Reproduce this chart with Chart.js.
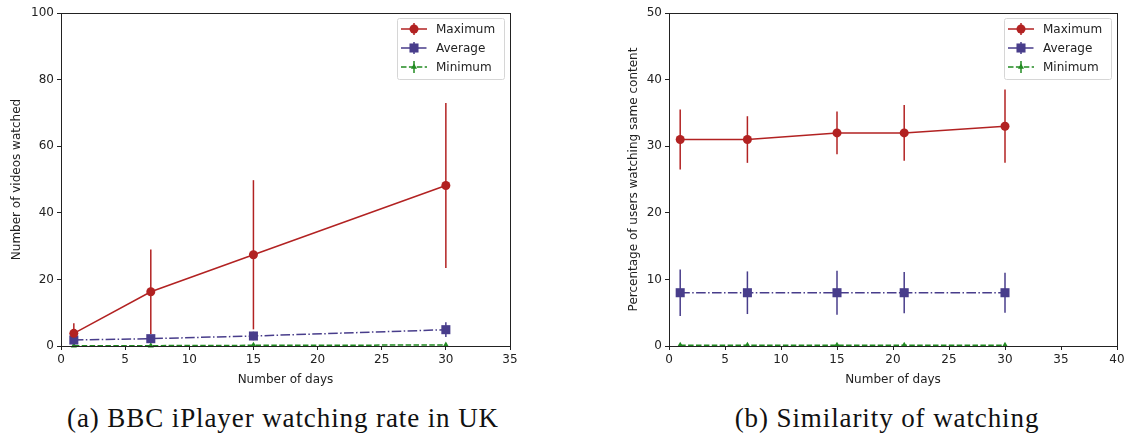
<!DOCTYPE html>
<html lang="en">
  <head>
    <meta charset="UTF-8" />
    <title>iPlayer watching</title>
    <script src="https://cdn.jsdelivr.net/npm/chart.js"></script>
    <style>
      body {
        margin: 0;
        width: 1128px;
        height: 435px;
        background: #fff;
        position: relative;
        overflow: hidden;
      }
      .panel {
        position: absolute;
        top: 0;
        height: 392px;
      }
      #left { left: 0; width: 525px; }
      #right { left: 600px; width: 528px; }
      .caption {
        position: absolute;
        top: 403px;
        font-family: "Liberation Serif", "DejaVu Serif", serif;
        font-size: 27px;
        letter-spacing: 0.9px;
        color: #111;
        text-align: center;
        white-space: nowrap;
      }
    </style>
  </head>
  <body>
    <div class="panel" id="left"><canvas id="rateChart"></canvas></div>
    <div class="panel" id="right"><canvas id="simChart"></canvas></div>
    <div class="caption" style="left: 33px; width: 500px">(a) BBC iPlayer watching rate in UK</div>
    <div class="caption" style="left: 637px; width: 500px">(b) Similarity of watching</div>

    <script>
      // (a) videos watched per user
      const daysA = [1, 7, 15, 30];
      const maxA = [3.8, 16.3, 27.4, 48.2];
      const maxErrA = [3, 12.7, 22.4, 24.8];
      const avgA = [1.8, 2.2, 3.0, 4.9];
      const avgErrA = [0.8, 0.9, 1.3, 2.2];
      const minA = [0.1, 0.1, 0.2, 0.3];
      const minErrA = [0.2, 0.2, 0.2, 0.3];

      // (b) share of users watching the same content
      const daysB = [1, 7, 15, 21, 30];
      const maxB = [31, 31, 32, 32, 33];
      const maxErrB = [4.5, 3.5, 3.2, 4.2, 5.5];
      const avgB = [8, 8, 8, 8, 8];
      const avgErrB = [3.5, 3.2, 3.3, 3.1, 3.0];
      const minB = [0.1, 0.1, 0.1, 0.1, 0.1];
      const minErrB = [0.2, 0.2, 0.2, 0.2, 0.2];

      const RED = "#b22222";
      const BLUE = "#483d8b";
      const GREEN = "#228b22";
      const FONT = "'DejaVu Sans', sans-serif";

      const series = [
        { label: "Maximum", color: RED, dash: [], style: "circle", r: 4.5 },
        { label: "Average", color: BLUE, dash: [9.6, 2.4, 1.5, 2.4], style: "rect", r: 6.4 },
        { label: "Minimum", color: GREEN, dash: [5.5, 2.4], style: "triangle", r: 3.5 },
      ];

      function makeDatasets(days, values, errors) {
        return series.map((s, i) => ({
          label: s.label,
          data: days.map((d, k) => ({ x: d, y: values[i][k] })),
          errors: errors[i],
          borderColor: s.color,
          backgroundColor: s.color,
          borderWidth: 1.5,
          borderDash: s.dash,
          pointStyle: s.style,
          pointRadius: s.r,
          pointBorderWidth: 0,
          tension: 0,
          clip: false,
        }));
      }

      // error bars, frame and legend box
      const extras = {
        id: "extras",
        beforeDatasetsDraw(chart) {
          const ctx = chart.ctx;
          const x = chart.scales.x;
          const y = chart.scales.y;
          ctx.save();
          chart.data.datasets.forEach((ds) => {
            ctx.strokeStyle = ds.borderColor;
            ctx.lineWidth = 1.5;
            ds.data.forEach((p, k) => {
              const e = ds.errors[k];
              const px = x.getPixelForValue(p.x);
              ctx.beginPath();
              ctx.moveTo(px, y.getPixelForValue(Math.max(p.y - e, y.min)));
              ctx.lineTo(px, y.getPixelForValue(p.y + e));
              ctx.stroke();
            });
          });
          ctx.restore();
        },
        afterDraw(chart) {
          const ctx = chart.ctx;
          const a = chart.chartArea;
          ctx.save();
          ctx.strokeStyle = "#222";
          ctx.lineWidth = 1;
          ctx.strokeRect(a.left + 0.5, a.top + 0.5, a.right - a.left, a.bottom - a.top);

          // legend
          const bw = 107, bh = 61;
          const bx = a.right - bw - 6, by = a.top + 5;
          ctx.fillStyle = "rgba(255,255,255,0.85)";
          ctx.strokeStyle = "#d6d6d6";
          ctx.beginPath();
          ctx.roundRect(bx + 0.5, by + 0.5, bw, bh, 2);
          ctx.fill();
          ctx.stroke();
          ctx.font = "12px " + FONT;
          ctx.textBaseline = "middle";
          series.forEach((s, i) => {
            const ly = by + 11 + i * 19;
            ctx.strokeStyle = s.color;
            ctx.lineWidth = 1.5;
            ctx.setLineDash(s.dash);
            ctx.beginPath();
            ctx.moveTo(bx + 4, ly);
            ctx.lineTo(bx + 30, ly);
            ctx.stroke();
            ctx.setLineDash([]);
            ctx.beginPath();
            ctx.moveTo(bx + 17, ly - 6);
            ctx.lineTo(bx + 17, ly + 6);
            ctx.stroke();
            ctx.fillStyle = s.color;
            Chart.helpers.drawPoint(ctx, { pointStyle: s.style, radius: s.r, borderWidth: 0 }, bx + 17, ly);
            ctx.fillStyle = "#222";
            ctx.fillText(s.label, bx + 39, ly + 1);
          });
          ctx.restore();
        },
      };

      function axis(title, max, step, fitSize, isY, titleGap) {
        return {
          type: "linear",
          min: 0,
          max: max,
          border: { color: "#222", width: 1 },
          grid: {
            display: true,
            drawOnChartArea: false,
            drawTicks: true,
            tickLength: 4,
            color: "#222",
          },
          ticks: {
            stepSize: step,
            color: "#222",
            padding: 3,
            font: { family: FONT, size: 12 },
            maxRotation: 0,
          },
          title: {
            display: true,
            text: title,
            color: "#222",
            font: { family: FONT, size: 12 },
            padding: isY ? { top: titleGap, bottom: 4 } : { top: 2, bottom: titleGap },
          },
          afterFit(scale) {
            if (isY) scale.width = fitSize;
            else scale.height = fitSize;
          },
        };
      }

      function drawChart(id, datasets, xMax, yMax, yStep, yTitle, yWidth, yGap, padRight) {
        new Chart(document.getElementById(id), {
          type: "line",
          data: { datasets },
          options: {
            responsive: true,
            maintainAspectRatio: false,
            animation: false,
            layout: { padding: { top: 13, right: padRight, left: 0, bottom: 0 } },
            plugins: { legend: { display: false }, tooltip: { enabled: false } },
            scales: {
              x: axis("Number of days", xMax, 5, 46, false, 5),
              y: axis(yTitle, yMax, yStep, yWidth, true, yGap),
            },
          },
          plugins: [extras],
        });
      }

      drawChart(
        "rateChart",
        makeDatasets(daysA, [maxA, avgA, minA], [maxErrA, avgErrA, minErrA]),
        35, 100, 20, "Number of videos watched", 61, 10, 15
      );
      drawChart(
        "simChart",
        makeDatasets(daysB, [maxB, avgB, minB], [maxErrB, avgErrB, minErrB]),
        40, 50, 10, "Percentage of users watching same content", 69, 27, 11
      );
    </script>
  </body>
</html>
